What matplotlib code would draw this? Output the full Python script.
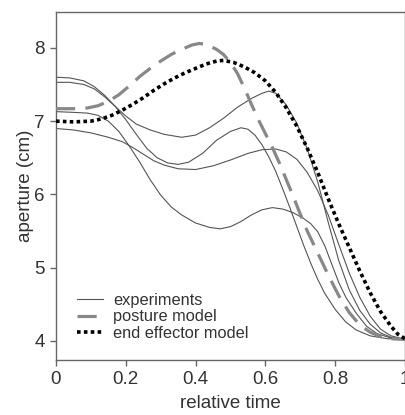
import matplotlib
matplotlib.use("Agg")
import matplotlib.pyplot as plt

plt.rcParams['font.family'] = ['Liberation Sans', 'DejaVu Sans']

# ---- data ----
expA_x = [0, 0.04, 0.08, 0.11, 0.14, 0.17, 0.20, 0.23, 0.27, 0.31, 0.36, 0.40, 0.44, 0.48, 0.52, 0.56, 0.59, 0.61, 0.63, 0.66, 0.69, 0.72, 0.75, 0.78, 0.81, 0.84, 0.87, 0.90, 0.93, 0.96, 1.0]
expA_y = [7.53, 7.53, 7.50, 7.44, 7.33, 7.20, 7.07, 6.96, 6.88, 6.82, 6.78, 6.81, 6.91, 7.04, 7.19, 7.31, 7.38, 7.41, 7.38, 7.22, 6.97, 6.62, 6.17, 5.62, 5.10, 4.70, 4.42, 4.23, 4.11, 4.05, 4.02]

expB_x = [0, 0.04, 0.08, 0.11, 0.14, 0.17, 0.20, 0.23, 0.26, 0.29, 0.32, 0.35, 0.38, 0.42, 0.46, 0.50, 0.53, 0.55, 0.57, 0.59, 0.61, 0.63, 0.65, 0.67, 0.69, 0.71, 0.73, 0.75, 0.77, 0.80, 0.83, 0.86, 0.90, 0.95, 1.0]
expB_y = [7.60, 7.59, 7.55, 7.47, 7.35, 7.20, 7.02, 6.82, 6.63, 6.50, 6.43, 6.41, 6.44, 6.56, 6.74, 6.86, 6.91, 6.89, 6.81, 6.68, 6.51, 6.31, 6.07, 5.82, 5.56, 5.30, 5.06, 4.84, 4.65, 4.43, 4.26, 4.15, 4.07, 4.03, 4.02]

expC_x = [0, 0.05, 0.10, 0.15, 0.19, 0.22, 0.25, 0.28, 0.31, 0.35, 0.40, 0.45, 0.50, 0.55, 0.59, 0.63, 0.66, 0.69, 0.72, 0.75, 0.78, 0.81, 0.84, 0.87, 0.90, 0.93, 0.96, 1.0]
expC_y = [6.90, 6.88, 6.84, 6.78, 6.72, 6.64, 6.55, 6.46, 6.40, 6.35, 6.34, 6.39, 6.47, 6.56, 6.61, 6.62, 6.58, 6.48, 6.30, 6.05, 5.72, 5.32, 4.93, 4.60, 4.34, 4.16, 4.07, 4.02]

expD_x = [0, 0.05, 0.09, 0.12, 0.15, 0.18, 0.21, 0.24, 0.27, 0.30, 0.33, 0.36, 0.40, 0.44, 0.47, 0.50, 0.53, 0.56, 0.59, 0.62, 0.65, 0.68, 0.71, 0.73, 0.75, 0.77, 0.79, 0.81, 0.83, 0.86, 0.89, 0.92, 0.96, 1.0]
expD_y = [7.13, 7.12, 7.11, 7.08, 7.00, 6.86, 6.66, 6.44, 6.20, 5.99, 5.83, 5.72, 5.61, 5.55, 5.53, 5.56, 5.63, 5.72, 5.79, 5.82, 5.80, 5.75, 5.67, 5.60, 5.49, 5.30, 5.05, 4.80, 4.60, 4.38, 4.20, 4.10, 4.04, 4.02]

posture_x = [0, 0.05, 0.09, 0.12, 0.15, 0.18, 0.21, 0.24, 0.27, 0.30, 0.33, 0.36, 0.39, 0.41, 0.43, 0.46, 0.48, 0.50, 0.52, 0.54, 0.56, 0.58, 0.60, 0.62, 0.64, 0.66, 0.68, 0.70, 0.72, 0.75, 0.78, 0.81, 0.84, 0.87, 0.90, 0.93, 0.96, 1.0]
posture_y = [7.17, 7.17, 7.18, 7.21, 7.27, 7.36, 7.48, 7.61, 7.72, 7.82, 7.91, 7.98, 8.04, 8.06, 8.05, 7.98, 7.91, 7.80, 7.65, 7.45, 7.23, 7.02, 6.83, 6.64, 6.43, 6.20, 5.97, 5.73, 5.50, 5.20, 4.90, 4.62, 4.39, 4.22, 4.12, 4.06, 4.03, 4.02]

effector_x = [0, 0.05, 0.10, 0.13, 0.16, 0.19, 0.22, 0.25, 0.28, 0.31, 0.34, 0.37, 0.40, 0.43, 0.46, 0.48, 0.51, 0.54, 0.57, 0.60, 0.63, 0.66, 0.69, 0.72, 0.75, 0.78, 0.81, 0.84, 0.87, 0.90, 0.93, 0.96, 0.98, 1.0]
effector_y = [7.00, 6.99, 7.00, 7.03, 7.08, 7.15, 7.23, 7.32, 7.42, 7.51, 7.59, 7.66, 7.72, 7.78, 7.82, 7.83, 7.80, 7.74, 7.66, 7.55, 7.39, 7.18, 6.93, 6.63, 6.30, 5.94, 5.60, 5.28, 4.96, 4.66, 4.40, 4.20, 4.09, 4.03]

x_ticks = [0, 0.2, 0.4, 0.6, 0.8, 1.0]
x_ticklabels = ["0", "0.2", "0.4", "0.6", "0.8", "1"]
y_ticks = [4, 5, 6, 7, 8]
y_ticklabels = ["4", "5", "6", "7", "8"]

# ---- figure ----
fig = plt.figure(figsize=(4.06, 4.15), dpi=100)
ax = fig.add_axes([56/406, 1 - 360/415, 349/406, 348/415])

exp_color = '#555555'
for i, (xs, ys) in enumerate([(expA_x, expA_y), (expB_x, expB_y), (expC_x, expC_y), (expD_x, expD_y)]):
    ax.plot(xs, ys, color=exp_color, lw=0.8, label='experiments' if i == 0 else None,
            zorder=2, solid_joinstyle='round')

ax.plot(posture_x, posture_y, color='#888888', lw=2.3, dashes=(6, 3.2),
        label='posture model', zorder=3)
ax.plot(effector_x, effector_y, color='black', lw=2.6, dashes=(1.0, 0.9),
        label='end effector model', zorder=4)

ax.set_xlim(0, 1)
ax.set_ylim(3.74, 8.49)
ax.set_xticks(x_ticks)
ax.set_xticklabels(x_ticklabels)
ax.set_yticks(y_ticks)
ax.set_yticklabels(y_ticklabels)

for s in ax.spines.values():
    s.set_color('#666666')
    s.set_linewidth(1.0)

ax.tick_params(axis='both', direction='out', length=4, width=1, color='#666666',
               labelsize=13.5, labelcolor='#333333', pad=4)

ax.set_xlabel('relative time', fontsize=13.5, color='#333333', labelpad=5)
ax.set_ylabel('aperture (cm)', fontsize=13.5, color='#333333', labelpad=0)

leg = ax.legend(loc='center left', bbox_to_anchor=(0.06, 0.124), frameon=False,
                fontsize=11.8, handlelength=1.6, handletextpad=0.6,
                labelspacing=0.1, borderpad=0, borderaxespad=0)
for t in leg.get_texts():
    t.set_color('#333333')

fig.savefig('out.png', dpi=100)
